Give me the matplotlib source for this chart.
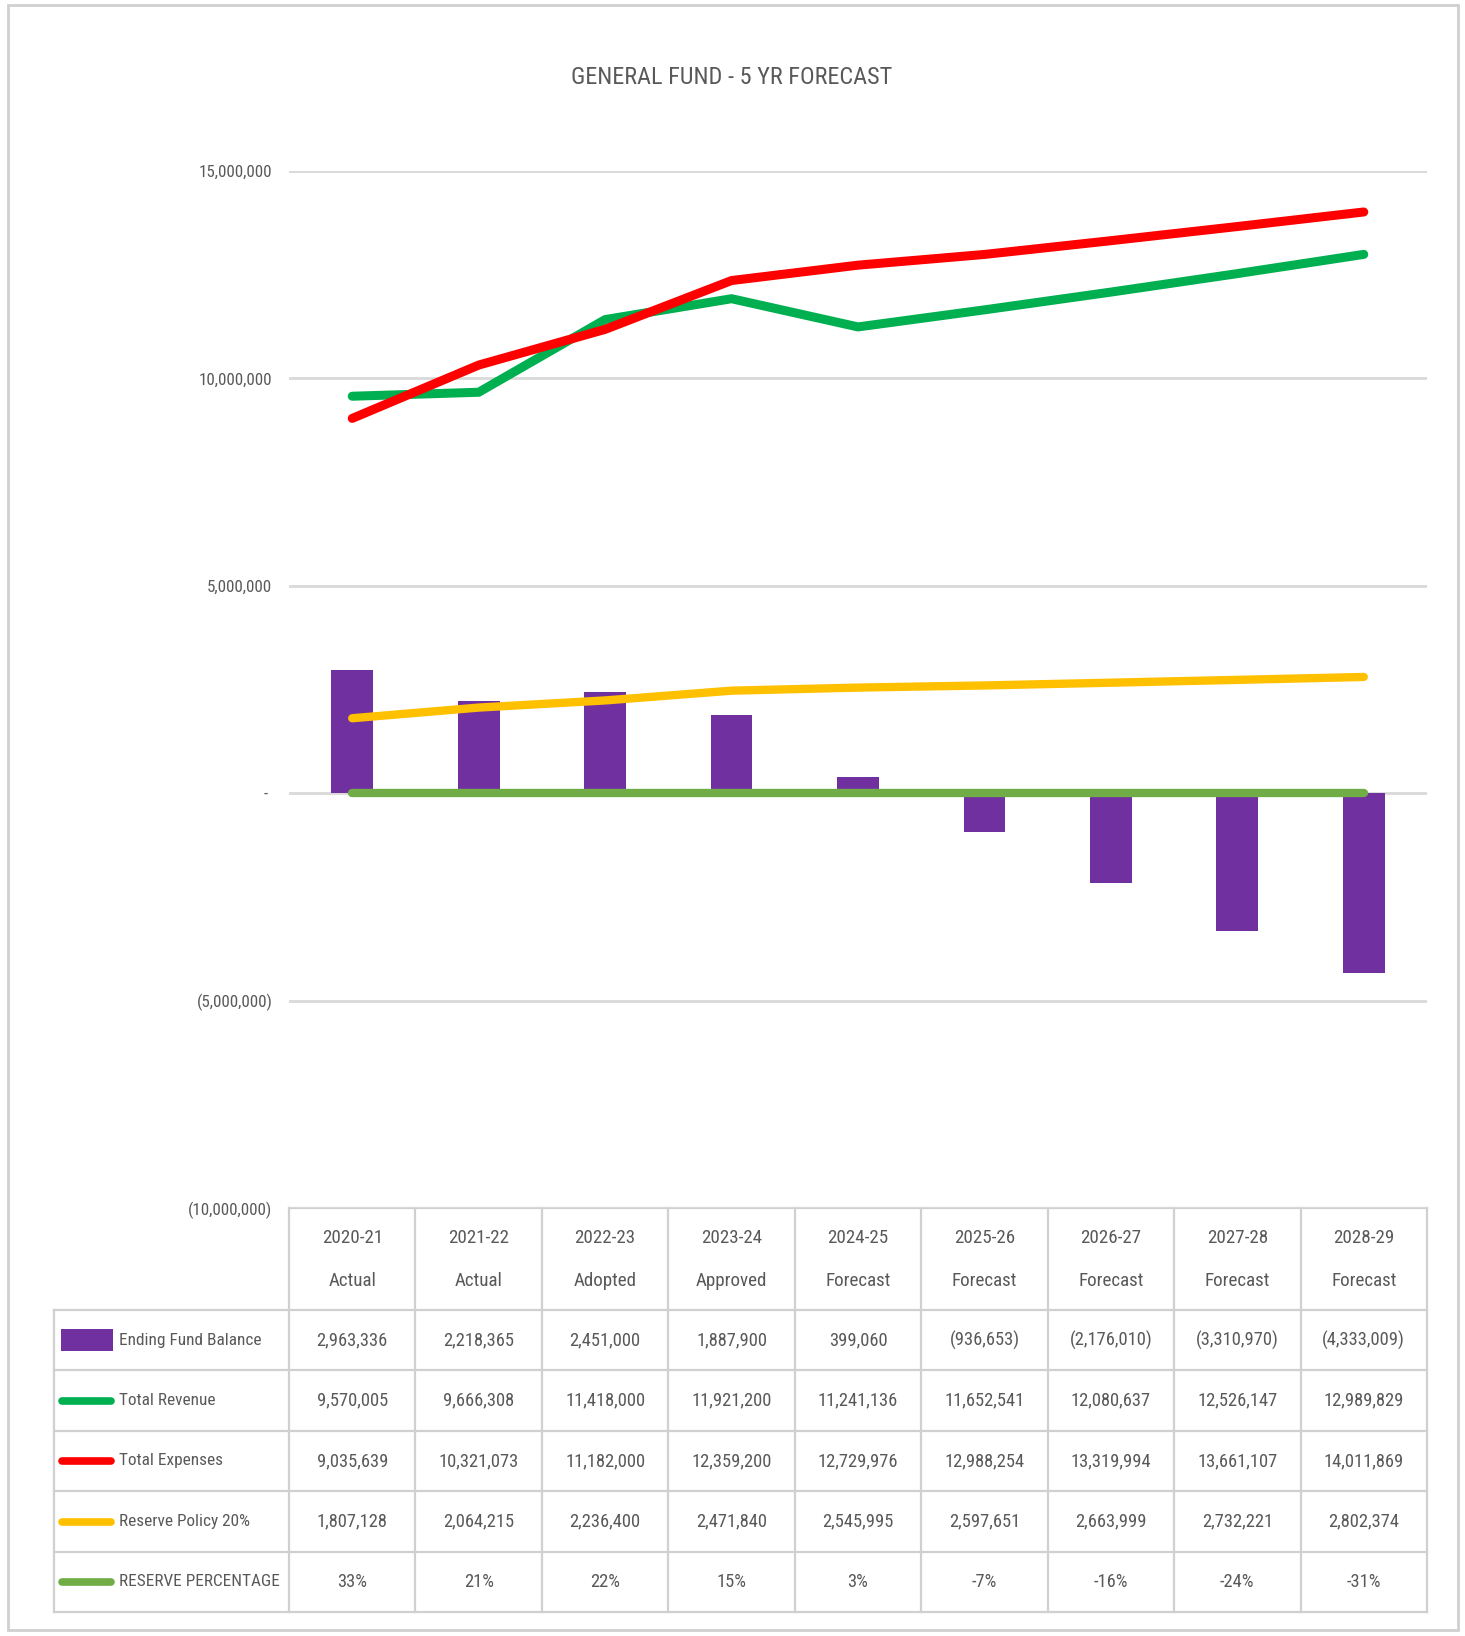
import matplotlib
matplotlib.use("Agg")
import matplotlib.pyplot as plt
from matplotlib import font_manager
from matplotlib.font_manager import FontProperties
from matplotlib.patches import Rectangle

# ── Data ──────────────────────────────────────────────────────────────────────
years = ["2020-21", "2021-22", "2022-23", "2023-24", "2024-25",
         "2025-26", "2026-27", "2027-28", "2028-29"]
stages = ["Actual", "Actual", "Adopted", "Approved", "Forecast",
          "Forecast", "Forecast", "Forecast", "Forecast"]
ending_balance = [2963336, 2218365, 2451000, 1887900, 399060,
                  -936653, -2176010, -3310970, -4333009]
total_revenue = [9570005, 9666308, 11418000, 11921200, 11241136,
                 11652541, 12080637, 12526147, 12989829]
total_expenses = [9035639, 10321073, 11182000, 12359200, 12729976,
                  12988254, 13319994, 13661107, 14011869]
reserve_policy = [1807128, 2064215, 2236400, 2471840, 2545995,
                  2597651, 2663999, 2732221, 2802374]
reserve_pct = [0.33, 0.21, 0.22, 0.15, 0.03, -0.07, -0.16, -0.24, -0.31]

yticks = [15e6, 10e6, 5e6, 0, -5e6, -10e6]
ytick_labels = ["15,000,000", "10,000,000", "5,000,000", "- ",
                "(5,000,000)", "(10,000,000)"]
series_names = ["Ending Fund Balance", "Total Revenue", "Total Expenses",
                "Reserve Policy 20%", "RESERVE PERCENTAGE"]

# ── Style ─────────────────────────────────────────────────────────────────────
PURPLE = "#7030A0"
GREEN = "#00B050"
RED = "#FF0000"
GOLD = "#FFC000"
LGREEN = "#70AD47"
GRID = "#D9D9D9"
TXT = "#595959"

# look for a narrow / condensed face, the reference uses a very condensed font
prefs = ["notosansextracondensed", "liberationsansnarrow", "robotocondensed",
         "opensanscondensed", "notosanscondensed", "dejavusanscondensed",
         "condensed", "narrow"]
cands = []
for f in font_manager.fontManager.ttflist:
    key = (f.fname.split("/")[-1] + f.name).lower().replace(" ", "").replace("-", "")
    if f.style != "normal" or f.weight not in (400, "normal", "regular"):
        continue
    if any(b in key for b in ("semi", "ultra", "light", "medium", "bold", "black", "thin")):
        continue
    for rank, p in enumerate(prefs):
        if p in key:
            cands.append((rank, f.fname))
            break
cands.sort()
BASE = FontProperties(fname=cands[0][1]) if cands else FontProperties(family="DejaVu Sans")

W, H, DPI = 1465, 1636, 100
PL, PR, PT, PB = 289, 1427, 171, 1208      # plot area in pixels
LEG_L = 54
row_edges = [1208, 1310, 1370, 1431, 1491, 1552, 1612]

fig = plt.figure(figsize=(W / DPI, H / DPI), dpi=DPI)
fig.patch.set_facecolor("white")
renderer = fig.canvas.get_renderer()

bg = fig.add_axes([0, 0, 1, 1])
bg.set_xlim(0, W)
bg.set_ylim(H, 0)
bg.axis("off")


def fit(samples, max_size):
    """font size so that each (text, width) sample is at most that wide"""
    sizes = [max_size]
    p = BASE.copy()
    p.set_size(10)
    for s, target_w in samples:
        t = bg.text(0, 0, s, fontproperties=p)
        w = t.get_window_extent(renderer).width
        t.remove()
        sizes.append(10 * target_w / w)
    out = BASE.copy()
    out.set_size(min(sizes))
    return out


P_TITLE = fit([("GENERAL FUND - 5 YR FORECAST", 321)], 30)
P_TICK = fit([("15,000,000", 73)], 21)
P_NUM = fit([("2,963,336", 71)], 22)
P_HEAD = fit([("Approved", 71)], 22)
P_LEG = fit([("Ending Fund Balance", 150), ("RESERVE PERCENTAGE", 160)], 22)

bg.add_patch(Rectangle((8, 5), 1450, 1625, fill=False, edgecolor="#D0D0D0", lw=2))
bg.text(732, 78, "GENERAL FUND - 5 YR FORECAST", ha="center", va="center",
        fontproperties=P_TITLE, color=TXT)

# ── Chart ─────────────────────────────────────────────────────────────────────
ax = fig.add_axes([PL / W, 1 - PB / H, (PR - PL) / W, (PB - PT) / H])
ax.set_facecolor("none")
n = len(years)
x = list(range(n))

ax.bar(x, ending_balance, width=0.33, color=PURPLE, zorder=2)
line_kw = dict(solid_capstyle="round", solid_joinstyle="round", zorder=3)
ax.plot(x, total_revenue, color=GREEN, lw=6.5, **line_kw)
ax.plot(x, total_expenses, color=RED, lw=6.5, **line_kw)
ax.plot(x, reserve_policy, color=GOLD, lw=6, **line_kw)
ax.plot(x, reserve_pct, color=LGREEN, lw=6, **line_kw)

ax.set_xlim(-0.5, n - 0.5)
ax.set_ylim(-10e6, 15e6)
ax.set_yticks(yticks)
ax.set_yticklabels(ytick_labels)
ax.set_xticks([])
ax.tick_params(axis="y", length=0, pad=12, labelcolor=TXT)
for lbl in ax.get_yticklabels():
    lbl.set_fontproperties(P_TICK)
for s in ax.spines.values():
    s.set_visible(False)
ax.grid(axis="y", color=GRID, lw=2)
ax.set_axisbelow(True)

# ── Data table ────────────────────────────────────────────────────────────────
def fmt(v):
    return f"({abs(v):,})" if v < 0 else f"{v:,}"

cw = (PR - PL) / n
col_edges = [PL + i * cw for i in range(n + 1)]
LC = "#D0D0D0"

bg.plot([PL, PR], [row_edges[0]] * 2, color=LC, lw=1.6)
for y in row_edges[1:]:
    bg.plot([LEG_L, PR], [y, y], color=LC, lw=1.6)
for xe in col_edges:
    bg.plot([xe, xe], [row_edges[0], row_edges[-1]], color=LC, lw=1.6)
bg.plot([LEG_L, LEG_L], [row_edges[1], row_edges[-1]], color=LC, lw=1.6)

for i in range(n):
    cx = col_edges[i] + cw / 2
    bg.text(cx, 1238, years[i], ha="center", va="center", fontproperties=P_HEAD, color=TXT)
    bg.text(cx, 1281, stages[i], ha="center", va="center", fontproperties=P_HEAD, color=TXT)

rows = [
    [fmt(v) for v in ending_balance],
    [fmt(v) for v in total_revenue],
    [fmt(v) for v in total_expenses],
    [fmt(v) for v in reserve_policy],
    [f"{round(v * 100)}%" for v in reserve_pct],
]
key_colors = [PURPLE, GREEN, RED, GOLD, LGREEN]

for r, vals in enumerate(rows):
    cy = (row_edges[r + 1] + row_edges[r + 2]) / 2
    for i, s in enumerate(vals):
        cx = col_edges[i] + cw / 2
        bg.text(cx, cy, s, ha="center", va="center", fontproperties=P_NUM, color=TXT)
    if r == 0:
        bg.add_patch(Rectangle((61, cy - 11), 52, 22, color=key_colors[r], lw=0))
    else:
        bg.plot([62, 111], [cy, cy], color=key_colors[r], lw=5.5,
                solid_capstyle="round")
    bg.text(119, cy, series_names[r], ha="left", va="center", fontproperties=P_LEG,
            color=TXT)

fig.savefig("out.png", dpi=DPI, facecolor="white")
plt.close(fig)
